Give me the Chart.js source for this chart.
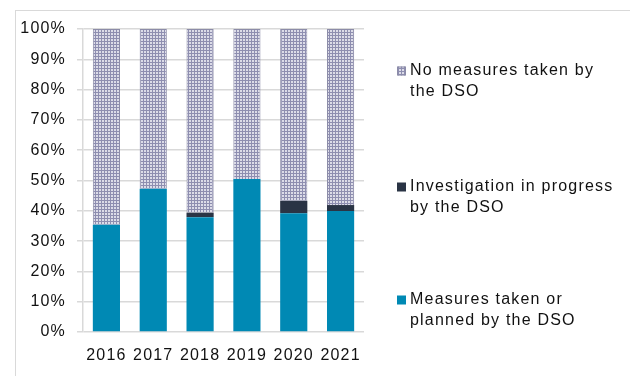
<!DOCTYPE html>
<html>
<head>
<meta charset="utf-8">
<script src="https://cdn.jsdelivr.net/npm/chart.js@4/dist/chart.umd.min.js"></script>
<style>
  html, body { margin: 0; padding: 0; background: #fff; }
  #wrap { position: relative; width: 630px; height: 376px; }
  #frame { position: absolute; left: 15px; top: 10px; right: -2px; bottom: -2px;
           border-left: 1px solid #d9d9d9; border-top: 1px solid #d9d9d9; }
  canvas { position: absolute; left: 0; top: 0; }
</style>
</head>
<body>
<div id="wrap">
  <div id="frame"></div>
  <canvas id="c" width="630" height="376"></canvas>
</div>
<script>
const categories = ['2016', '2017', '2018', '2019', '2020', '2021'];
const measuresTaken = [35.4, 47.3, 37.9, 50.5, 39.2, 39.9];
const investigation = [0, 0, 1.5, 0, 4.1, 2.0];
const noMeasures = [64.6, 52.7, 60.6, 49.5, 56.7, 58.1];
const yTicks = [0, 10, 20, 30, 40, 50, 60, 70, 80, 90, 100];
const seriesNames = ['Measures taken or\nplanned by the DSO', 'Investigation in progress\nby the DSO', 'No measures taken by\nthe DSO'];

function makePattern() {
  const p = document.createElement('canvas');
  p.width = 3; p.height = 3;
  const g = p.getContext('2d');
  g.fillStyle = '#dcdce8';
  g.fillRect(0, 0, 3, 3);
  g.fillStyle = '#8e8eb0';
  g.fillRect(2, 0, 1, 3);
  g.fillRect(0, 2, 3, 1);
  return document.getElementById('c').getContext('2d').createPattern(p, 'repeat');
}
const pattern = makePattern();
const FONT = '"Liberation Sans", Arial, sans-serif';
const SPACING = '1.2px';

const spacingPlugin = {
  id: 'spacing',
  beforeLayout(chart) { chart.ctx.letterSpacing = SPACING; },
  beforeDraw(chart) { chart.ctx.letterSpacing = SPACING; }
};

const legendPlugin = {
  id: 'sideLegend',
  afterDraw(chart) {
    const ctx = chart.ctx;
    const order = [2, 1, 0];
    const baseY = [71, 187, 300];
    ctx.save();
    ctx.letterSpacing = SPACING;
    ctx.font = '16px ' + FONT;
    ctx.textBaseline = 'middle';
    order.forEach((di, i) => {
      const ds = chart.data.datasets[di];
      const y = baseY[i];
      ctx.fillStyle = ds.backgroundColor;
      ctx.fillRect(397, y - 4.5, 9, 9);
      if (ds.borderWidth) {
        ctx.strokeStyle = ds.borderColor;
        ctx.lineWidth = 1;
        ctx.strokeRect(397.5, y - 4, 8, 8);
      }
      ctx.fillStyle = '#111';
      ds.label.split('\n').forEach((line, li) => {
        ctx.fillText(line, 410, y + li * 21);
      });
    });
    ctx.restore();
  }
};

new Chart(document.getElementById('c'), {
  type: 'bar',
  data: {
    labels: categories,
    datasets: [
      { label: seriesNames[0], data: measuresTaken, backgroundColor: '#0089b4', borderWidth: 0 },
      { label: seriesNames[1], data: investigation, backgroundColor: '#2a3445', borderWidth: 0 },
      { label: seriesNames[2], data: noMeasures, backgroundColor: pattern, borderColor: '#8c8ca8', borderWidth: 1 }
    ]
  },
  options: {
    responsive: false,
    animation: false,
    devicePixelRatio: 1,
    layout: { padding: { left: 0, right: 266, top: 29, bottom: 0 } },
    datasets: { bar: { barPercentage: 0.58, categoryPercentage: 1.0 } },
    plugins: { legend: { display: false }, tooltip: { enabled: false } },
    scales: {
      x: {
        stacked: true,
        grid: { display: false },
        border: { display: false },
        ticks: { color: '#111', font: { family: FONT, size: 16 }, padding: 6, maxRotation: 0 },
        afterFit(scale) { scale.height = 44; }
      },
      y: {
        stacked: true,
        min: 0, max: 100,
        afterBuildTicks(scale) { scale.ticks = yTicks.map(v => ({ value: v })); },
        grid: { color: '#d9d9d9', tickLength: 6, lineWidth: 1.5 },
        border: { display: true, color: '#d9d9d9', width: 1.5 },
        ticks: { color: '#111', font: { family: FONT, size: 16 }, padding: 11, callback: v => v + '%' },
        afterFit(scale) { scale.width = 83; }
      }
    }
  },
  plugins: [spacingPlugin, legendPlugin]
});
</script>
</body>
</html>
